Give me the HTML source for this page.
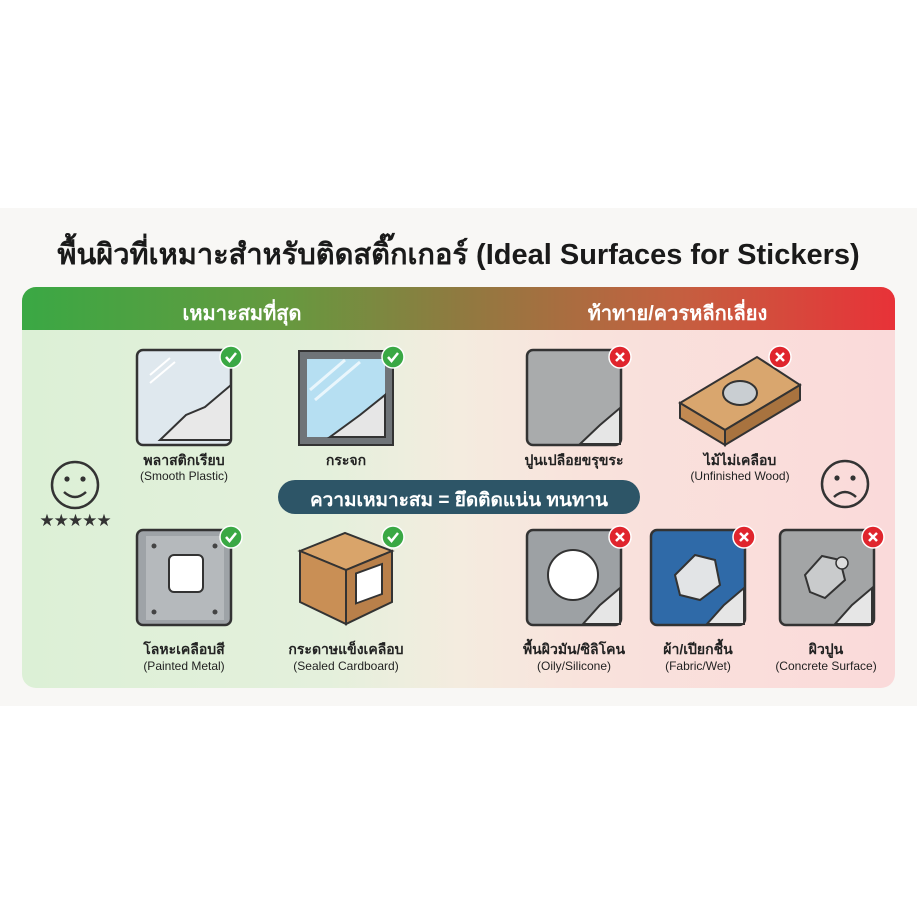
<!DOCTYPE html>
<html><head><meta charset="utf-8"><style>
body{margin:0;width:917px;height:917px;background:#fff;position:relative;overflow:hidden;font-family:"Liberation Sans","DejaVu Sans",sans-serif}
.band{position:absolute;left:0;top:208px;width:917px;height:498px;background:#f8f7f5}
.t{position:absolute;text-align:center;color:#222;white-space:nowrap}
</style></head><body>
<div class="band"></div>
<div class="t" style="left:0;width:917px;top:231px;font-size:29px;font-weight:bold;color:#1a1a1a">พื้นผิวที่เหมาะสำหรับติดสติ๊กเกอร์ (Ideal Surfaces for Stickers)</div>
<svg style="position:absolute;left:0;top:0" width="917" height="917">
<defs>
<linearGradient id="hd" x1="0" x2="1"><stop offset="0" stop-color="#3aa844"/><stop offset="0.3" stop-color="#66993f"/><stop offset="0.5" stop-color="#8f7a40"/><stop offset="0.75" stop-color="#c46040"/><stop offset="1" stop-color="#e83238"/></linearGradient>
<linearGradient id="bd" x1="0" x2="1"><stop offset="0" stop-color="#dcf0d6"/><stop offset="0.35" stop-color="#e4f0dc"/><stop offset="0.5" stop-color="#f4ecdf"/><stop offset="0.65" stop-color="#f9e2dc"/><stop offset="1" stop-color="#fadada"/></linearGradient>
<g id="ok"><circle r="11" fill="#3aa844" stroke="#fff" stroke-width="1.5"/><path d="M-5 0 L-1.5 4 L5 -4" fill="none" stroke="#fff" stroke-width="2.5"/></g>
<g id="no"><circle r="11" fill="#e0252d" stroke="#fff" stroke-width="1.5"/><path d="M-4 -4 L4 4 M4 -4 L-4 4" fill="none" stroke="#fff" stroke-width="2.5"/></g>
</defs>
<rect x="22" y="287" width="873" height="401" rx="14" fill="url(#bd)"/>
<path d="M22 330 V301 a14 14 0 0 1 14 -14 H881 a14 14 0 0 1 14 14 V330 Z" fill="url(#hd)"/>
<rect x="137" y="350" width="94" height="95" rx="6" fill="#dfe8ee" stroke="#333" stroke-width="2.5"/>
<path d="M150 375 L170 358 M150 383 L175 362" stroke="#fff" stroke-width="2"/>
<path d="M205 407 L231 385 V440 H160 L186 415 Z" fill="#e8e8e8" stroke="#333" stroke-width="2"/>
<use href="#ok" x="231" y="357"/>
<rect x="299" y="351" width="94" height="94" fill="#6f7478" stroke="#333" stroke-width="2"/>
<rect x="307" y="359" width="78" height="78" fill="#b6dff2"/>
<path d="M310 390 L345 360 M315 400 L360 362" stroke="#e9f6fc" stroke-width="3"/>
<path d="M360 415 L385 395 V437 H330 Z" fill="#e6e6e6" stroke="#333" stroke-width="2"/>
<use href="#ok" x="393" y="357"/>
<rect x="137" y="530" width="94" height="95" rx="6" fill="#9ea3a7" stroke="#333" stroke-width="2.5"/>
<rect x="146" y="536" width="78" height="84" fill="#b5b9bc"/>
<circle cx="154" cy="546" r="2.5" fill="#444"/><circle cx="215" cy="546" r="2.5" fill="#444"/><circle cx="154" cy="612" r="2.5" fill="#444"/><circle cx="215" cy="612" r="2.5" fill="#444"/>
<rect x="169" y="555" width="34" height="37" rx="5" fill="#fff" stroke="#333" stroke-width="2"/>
<use href="#ok" x="231" y="537"/>
<path d="M300 551 L345 533 L392 551 L346 570 Z" fill="#d9a46a" stroke="#333" stroke-width="2"/>
<path d="M300 551 L346 570 V624 L300 602 Z" fill="#c98f55" stroke="#333" stroke-width="2"/>
<path d="M346 570 L392 551 V602 L346 624 Z" fill="#b9804a" stroke="#333" stroke-width="2"/>
<rect x="356" y="573" width="26" height="30" fill="#fff" stroke="#333" stroke-width="2" transform="skewY(-20) translate(0,130)"/>
<use href="#ok" x="393" y="537"/>
<rect x="527" y="350" width="94" height="95" rx="6" fill="#a9abac" stroke="#333" stroke-width="2.5"/>
<path d="M600 425 L620 408 V444 H580 Z" fill="#e6e6e6" stroke="#333" stroke-width="2"/>
<use href="#no" x="620" y="357"/>
<path d="M680 403 L757 357 L800 385 L725 430 Z" fill="#d9a66e" stroke="#333" stroke-width="2"/>
<path d="M680 403 L725 430 V445 L680 418 Z" fill="#c28a52" stroke="#333" stroke-width="2"/>
<path d="M725 430 L800 385 V400 L725 445 Z" fill="#a8733f" stroke="#333" stroke-width="2"/>
<ellipse cx="740" cy="393" rx="17" ry="12" fill="#c9ced2" stroke="#333" stroke-width="2"/>
<use href="#no" x="780" y="357"/>
<rect x="527" y="530" width="94" height="95" rx="6" fill="#9da1a4" stroke="#333" stroke-width="2.5"/>
<circle cx="573" cy="575" r="25" fill="#fff" stroke="#333" stroke-width="2"/>
<path d="M600 605 L620 588 V624 H583 Z" fill="#e6e6e6" stroke="#333" stroke-width="2"/>
<use href="#no" x="620" y="537"/>
<rect x="651" y="530" width="94" height="95" rx="6" fill="#2f6aa8" stroke="#333" stroke-width="2.5"/>
<path d="M675 575 L695 555 L715 560 L720 585 L700 600 L680 595 Z" fill="#e2e4e6" stroke="#333" stroke-width="2"/>
<path d="M724 605 L744 588 V624 H707 Z" fill="#e6e6e6" stroke="#333" stroke-width="2"/>
<use href="#no" x="744" y="537"/>
<rect x="780" y="530" width="94" height="95" rx="6" fill="#a3a5a6" stroke="#333" stroke-width="2.5"/>
<path d="M805 575 L822 556 L840 560 L845 580 L825 598 L810 592 Z" fill="#c9cbcc" stroke="#333" stroke-width="2"/>
<circle cx="842" cy="563" r="6" fill="#ddd" stroke="#333" stroke-width="1.5"/>
<path d="M852 605 L872 588 V624 H835 Z" fill="#e6e6e6" stroke="#333" stroke-width="2"/>
<use href="#no" x="873" y="537"/>
<circle cx="75" cy="485" r="23" fill="none" stroke="#333" stroke-width="2.5"/>
<circle cx="67" cy="479" r="2.6" fill="#333"/><circle cx="83" cy="479" r="2.6" fill="#333"/>
<path d="M64 492 Q75 502 86 492" fill="none" stroke="#333" stroke-width="2.5"/>
<circle cx="845" cy="484" r="23" fill="none" stroke="#333" stroke-width="2.5"/>
<circle cx="837" cy="478" r="2.6" fill="#333"/><circle cx="853" cy="478" r="2.6" fill="#333"/>
<path d="M834 497 Q845 487 856 497" fill="none" stroke="#333" stroke-width="2.5"/>
<rect x="278" y="480" width="362" height="34" rx="17" fill="#2d5567"/>
</svg>
<div class="t" style="left:22px;width:440px;top:297px;font-size:20px;font-weight:bold;color:#fff">เหมาะสมที่สุด</div>
<div class="t" style="left:460px;width:435px;top:297px;font-size:20px;font-weight:bold;color:#fff">ท้าทาย/ควรหลีกเลี่ยง</div>
<div class="t" style="left:30px;width:90px;top:511px;font-size:17px;color:#333;letter-spacing:-1px">★★★★★</div>
<div class="t" style="left:278px;width:362px;top:485px;font-size:19px;font-weight:bold;color:#fff">ความเหมาะสม = ยึดติดแน่น ทนทาน</div>
<div class="t" style="left:104px;width:160px;top:450px;font-size:14px;font-weight:bold">พลาสติกเรียบ</div>
<div class="t" style="left:104px;width:160px;top:469px;font-size:12px">(Smooth Plastic)</div>
<div class="t" style="left:266px;width:160px;top:450px;font-size:14px;font-weight:bold">กระจก</div>
<div class="t" style="left:104px;width:160px;top:639px;font-size:14px;font-weight:bold">โลหะเคลือบสี</div>
<div class="t" style="left:104px;width:160px;top:659px;font-size:12px">(Painted Metal)</div>
<div class="t" style="left:266px;width:160px;top:639px;font-size:14px;font-weight:bold">กระดาษแข็งเคลือบ</div>
<div class="t" style="left:266px;width:160px;top:659px;font-size:12px">(Sealed Cardboard)</div>
<div class="t" style="left:494px;width:160px;top:450px;font-size:14px;font-weight:bold">ปูนเปลือยขรุขระ</div>
<div class="t" style="left:660px;width:160px;top:450px;font-size:14px;font-weight:bold">ไม้ไม่เคลือบ</div>
<div class="t" style="left:660px;width:160px;top:469px;font-size:12px">(Unfinished Wood)</div>
<div class="t" style="left:494px;width:160px;top:639px;font-size:14px;font-weight:bold">พื้นผิวมัน/ซิลิโคน</div>
<div class="t" style="left:494px;width:160px;top:659px;font-size:12px">(Oily/Silicone)</div>
<div class="t" style="left:618px;width:160px;top:639px;font-size:14px;font-weight:bold">ผ้า/เปียกชื้น</div>
<div class="t" style="left:618px;width:160px;top:659px;font-size:12px">(Fabric/Wet)</div>
<div class="t" style="left:746px;width:160px;top:639px;font-size:14px;font-weight:bold">ผิวปูน</div>
<div class="t" style="left:746px;width:160px;top:659px;font-size:12px">(Concrete Surface)</div>
</body></html>
